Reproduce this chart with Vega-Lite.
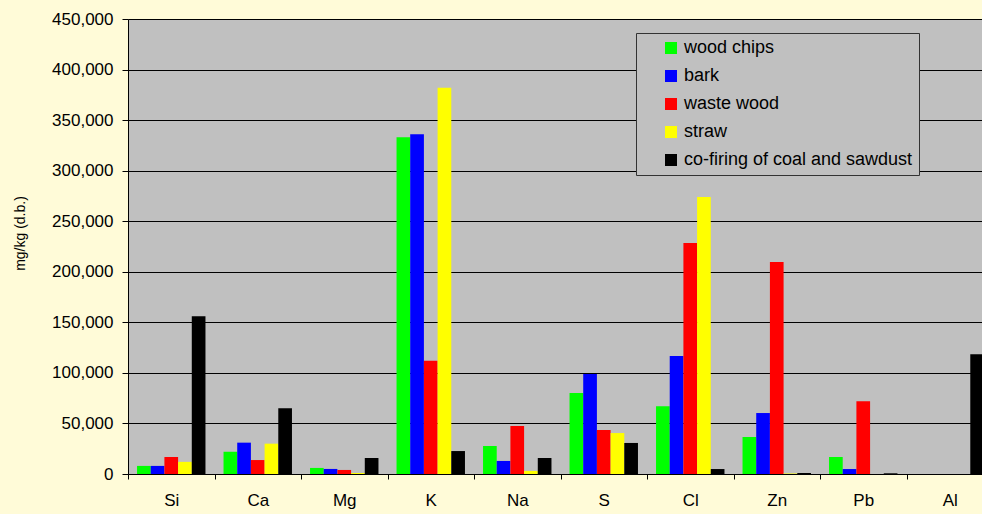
{
  "$schema": "https://vega.github.io/schema/vega-lite/v6.json",
  "width": 865,
  "height": 455,
  "autosize": "none",
  "padding": {"left": 128, "top": 19, "right": 0, "bottom": 40},
  "background": "#fffbd8",
  "config": {
    "font": "Liberation Sans",
    "view": {"fill": "#c0c0c0", "stroke": null},
    "axis": {"labelColor": "black", "titleColor": "black", "labelFont": "Liberation Sans", "titleFont": "Liberation Sans"}
  },
  "data": {
    "values": [
      {"element": "Si", "fuel": "wood chips", "value": 8000},
      {"element": "Si", "fuel": "bark", "value": 8000},
      {"element": "Si", "fuel": "waste wood", "value": 16800},
      {"element": "Si", "fuel": "straw", "value": 12000},
      {"element": "Si", "fuel": "co-firing of coal and sawdust", "value": 156000},
      {"element": "Ca", "fuel": "wood chips", "value": 22000},
      {"element": "Ca", "fuel": "bark", "value": 31000},
      {"element": "Ca", "fuel": "waste wood", "value": 13800},
      {"element": "Ca", "fuel": "straw", "value": 30000},
      {"element": "Ca", "fuel": "co-firing of coal and sawdust", "value": 65000},
      {"element": "Mg", "fuel": "wood chips", "value": 6000},
      {"element": "Mg", "fuel": "bark", "value": 5000},
      {"element": "Mg", "fuel": "waste wood", "value": 4000},
      {"element": "Mg", "fuel": "straw", "value": 1000},
      {"element": "Mg", "fuel": "co-firing of coal and sawdust", "value": 15800},
      {"element": "K", "fuel": "wood chips", "value": 333000},
      {"element": "K", "fuel": "bark", "value": 336000},
      {"element": "K", "fuel": "waste wood", "value": 112000},
      {"element": "K", "fuel": "straw", "value": 382000},
      {"element": "K", "fuel": "co-firing of coal and sawdust", "value": 22700},
      {"element": "Na", "fuel": "wood chips", "value": 27700},
      {"element": "Na", "fuel": "bark", "value": 12900},
      {"element": "Na", "fuel": "waste wood", "value": 47500},
      {"element": "Na", "fuel": "straw", "value": 3000},
      {"element": "Na", "fuel": "co-firing of coal and sawdust", "value": 15800},
      {"element": "S", "fuel": "wood chips", "value": 80000},
      {"element": "S", "fuel": "bark", "value": 99000},
      {"element": "S", "fuel": "waste wood", "value": 43500},
      {"element": "S", "fuel": "straw", "value": 40500},
      {"element": "S", "fuel": "co-firing of coal and sawdust", "value": 30700},
      {"element": "Cl", "fuel": "wood chips", "value": 67000},
      {"element": "Cl", "fuel": "bark", "value": 116800},
      {"element": "Cl", "fuel": "waste wood", "value": 228500},
      {"element": "Cl", "fuel": "straw", "value": 274000},
      {"element": "Cl", "fuel": "co-firing of coal and sawdust", "value": 4900},
      {"element": "Zn", "fuel": "wood chips", "value": 36600},
      {"element": "Zn", "fuel": "bark", "value": 60300},
      {"element": "Zn", "fuel": "waste wood", "value": 209700},
      {"element": "Zn", "fuel": "straw", "value": 500},
      {"element": "Zn", "fuel": "co-firing of coal and sawdust", "value": 1000},
      {"element": "Pb", "fuel": "wood chips", "value": 16800},
      {"element": "Pb", "fuel": "bark", "value": 4900},
      {"element": "Pb", "fuel": "waste wood", "value": 72000},
      {"element": "Pb", "fuel": "straw", "value": 0},
      {"element": "Pb", "fuel": "co-firing of coal and sawdust", "value": 700},
      {"element": "Al", "fuel": "wood chips", "value": 0},
      {"element": "Al", "fuel": "bark", "value": 0},
      {"element": "Al", "fuel": "waste wood", "value": 0},
      {"element": "Al", "fuel": "straw", "value": 0},
      {"element": "Al", "fuel": "co-firing of coal and sawdust", "value": 118500}
    ]
  },
  "mark": {"type": "bar"},
  "encoding": {
    "x": {
      "field": "element",
      "type": "nominal",
      "sort": null,
      "scale": {"paddingInner": 0, "paddingOuter": 0},
      "axis": {
        "title": null,
        "labelAngle": 0,
        "labelFontSize": 17,
        "labelPadding": 13,
        "tickBand": "extent",
        "tickSize": 5,
        "tickColor": "black",
        "domainColor": "black",
        "grid": false
      }
    },
    "xOffset": {
      "field": "fuel",
      "type": "nominal",
      "sort": ["wood chips", "bark", "waste wood", "straw", "co-firing of coal and sawdust"],
      "scale": {"paddingInner": 0, "paddingOuter": 0.66}
    },
    "y": {
      "field": "value",
      "type": "quantitative",
      "scale": {"domain": [0, 450000], "nice": false},
      "axis": {
        "title": "mg/kg (d.b.)",
        "titleFontSize": 14,
        "titleFontWeight": "normal",
        "titlePadding": 24,
        "titleY": 214,
        "labelFontSize": 17,
        "labelPadding": 9,
        "values": [0, 50000, 100000, 150000, 200000, 250000, 300000, 350000, 400000, 450000],
        "format": ",.0f",
        "tickSize": 6,
        "tickColor": "black",
        "domainColor": "black",
        "grid": true,
        "gridColor": "black",
        "gridOpacity": 1,
        "gridWidth": 1
      }
    },
    "color": {
      "field": "fuel",
      "type": "nominal",
      "sort": ["wood chips", "bark", "waste wood", "straw", "co-firing of coal and sawdust"],
      "scale": {
        "domain": ["wood chips", "bark", "waste wood", "straw", "co-firing of coal and sawdust"],
        "range": ["#00ff00", "#0000ff", "#ff0000", "#ffff00", "#000000"]
      },
      "legend": {
        "title": null,
        "orient": "none",
        "legendX": 508,
        "legendY": 14,
        "fillColor": "#c0c0c0",
        "strokeColor": "#333333",
        "padding": 6,
        "symbolOffset": 20,
        "symbolType": "square",
        "symbolSize": 144,
        "symbolStrokeWidth": 0,
        "labelFontSize": 18,
        "labelColor": "black",
        "labelOffset": 4,
        "rowPadding": 10,
        "labelLimit": 400
      }
    }
  }
}
